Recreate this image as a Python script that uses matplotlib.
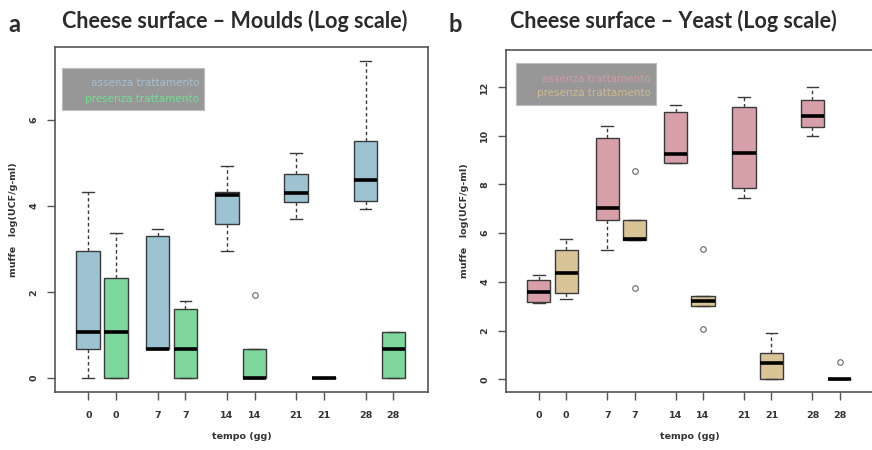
import matplotlib
matplotlib.use("Agg")
import matplotlib.pyplot as plt
from matplotlib.patches import Rectangle

# tempo (gg) labels and box positions, as in the R boxplot (at=...)
tempo = ["0", "0", "7", "7", "14", "14", "21", "21", "28", "28"]
posizioni = [1, 2, 3.5, 4.5, 6, 7, 8.5, 9.5, 11, 12]

# muffe (moulds) - alternating assenza / presenza trattamento
muffe_lo = [0.0, 0.0, 0.67, 0.0, 2.95, 0.0, 3.70, 0.0, 3.93, 0.0]
muffe_q1 = [0.67, 0.0, 0.67, 0.0, 3.58, 0.0, 4.10, 0.0, 4.12, 0.0]
muffe_med = [1.07, 1.07, 0.67, 0.67, 4.26, 0.0, 4.30, 0.0, 4.60, 0.67]
muffe_q3 = [2.95, 2.33, 3.30, 1.60, 4.33, 0.67, 4.74, 0.0, 5.51, 1.07]
muffe_hi = [4.33, 3.37, 3.46, 1.79, 4.93, 0.67, 5.23, 0.0, 7.37, 1.07]
muffe_out = [[], [], [], [], [], [1.93], [], [], [], []]

# lieviti (yeast)
lieviti_lo = [3.13, 3.30, 5.32, 5.73, 8.87, 3.01, 7.46, 0.0, 9.98, 0.0]
lieviti_q1 = [3.18, 3.55, 6.56, 5.73, 8.87, 3.01, 7.86, 0.0, 10.37, 0.0]
lieviti_med = [3.59, 4.37, 7.05, 5.75, 9.24, 3.22, 9.29, 0.66, 10.82, 0.0]
lieviti_q3 = [4.08, 5.32, 9.90, 6.56, 10.97, 3.42, 11.19, 1.07, 11.46, 0.0]
lieviti_hi = [4.29, 5.77, 10.39, 6.56, 11.26, 3.42, 11.60, 1.90, 12.00, 0.0]
lieviti_out = [[], [], [], [8.54, 3.75], [], [5.36, 2.06], [], [], [], [0.70]]

legenda = ["assenza trattamento", "presenza trattamento"]

plt.rcParams["font.family"] = ["DejaVu Sans"]


def disegna(ax, lo, q1, med, q3, hi, out, colori, ylim, yticks):
    stats = []
    for i in range(len(med)):
        stats.append(dict(whislo=lo[i], q1=q1[i], med=med[i], q3=q3[i],
                          whishi=hi[i], fliers=out[i]))
    bp = ax.bxp(stats, positions=posizioni, widths=0.85, patch_artist=True,
                boxprops=dict(edgecolor="#3a3a3a", linewidth=1.0),
                medianprops=dict(color="black", linewidth=2.6),
                whiskerprops=dict(color="#3a3a3a", linestyle=(0, (2.5, 2)), linewidth=1.0),
                capprops=dict(color="#3a3a3a", linewidth=1.0),
                capwidths=0.42,
                flierprops=dict(marker="o", markersize=4, markerfacecolor="none",
                                markeredgecolor="#666666", markeredgewidth=0.8))
    for i, b in enumerate(bp["boxes"]):
        b.set_facecolor(colori[i % 2])
    ax.set_xlim(-0.2, 13.25)
    ax.set_ylim(*ylim)
    ax.set_xticks(posizioni)
    ax.set_xticklabels(tempo, fontsize=6.8, fontweight="bold", color="#333333")
    ax.set_yticks(yticks)
    ax.set_yticklabels([str(v) for v in yticks], fontsize=6.8, fontweight="bold",
                       color="#333333", rotation=90, va="center")
    ax.tick_params(axis="both", direction="out", length=6, width=1.0, color="#555555")
    ax.tick_params(axis="x", pad=8)
    ax.tick_params(axis="y", pad=6)
    for s in ax.spines.values():
        s.set_color("#555555")
        s.set_linewidth(1.2)
    ax.set_xlabel("tempo (gg)", fontsize=6.8, fontweight="bold", color="#333333", labelpad=8)
    ax.set_ylabel("muffe   log(UCF/g-ml)", fontsize=6.8, fontweight="bold",
                  color="#333333", labelpad=8)


def legenda_box(ax, box, xt, yt, colori):
    # grey box with coloured labels, like legend(bg="grey") in R
    x0, y0, x1, y1 = box
    ax.add_patch(Rectangle((x0, y0), x1 - x0, y1 - y0, transform=ax.transAxes,
                           facecolor="#979797", edgecolor="#bdbdbd", linewidth=0.8,
                           zorder=3))
    for testo, y, c in zip(legenda, yt, colori):
        ax.text(xt, y, testo, transform=ax.transAxes, fontsize=7.5, color=c,
                ha="right", va="center", zorder=4)


fig = plt.figure(figsize=(8.72, 4.5), dpi=100)

ax1 = fig.add_axes([55 / 872, 58 / 450, 373 / 872, 345 / 450])
disegna(ax1, muffe_lo, muffe_q1, muffe_med, muffe_q3, muffe_hi, muffe_out,
        ["#9dc3d3", "#7ed79c"], (-0.32, 7.7), [0, 2, 4, 6])
legenda_box(ax1, (0.019, 0.817, 0.399, 0.939), 0.387, (0.896, 0.849),
            ["#a6bfd0", "#70e08f"])

ax2 = fig.add_axes([506 / 872, 58 / 450, 368 / 872, 342 / 450])
disegna(ax2, lieviti_lo, lieviti_q1, lieviti_med, lieviti_q3, lieviti_hi, lieviti_out,
        ["#d7a0a8", "#d8c497"], (-0.52, 13.52), [0, 2, 4, 6, 8, 10, 12])
legenda_box(ax2, (0.027, 0.839, 0.408, 0.962), 0.394, (0.915, 0.874),
            ["#d39aa4", "#cdb88e"])

titolo = dict(fontweight="bold", color="#2b2b2b", family=["Lato", "DejaVu Sans"],
              va="center", ha="left")
fig.text(8 / 872, 1 - 24 / 450, "a", fontsize=17, **titolo)
fig.text(62 / 872, 1 - 21 / 450, "Cheese surface \u2013 Moulds (Log scale)", fontsize=15.5, **titolo)
fig.text(448 / 872, 1 - 24 / 450, "b", fontsize=17, **titolo)
fig.text(510 / 872, 1 - 21 / 450, "Cheese surface \u2013 Yeast (Log scale)", fontsize=15.5, **titolo)

fig.savefig("out.png", dpi=100)
